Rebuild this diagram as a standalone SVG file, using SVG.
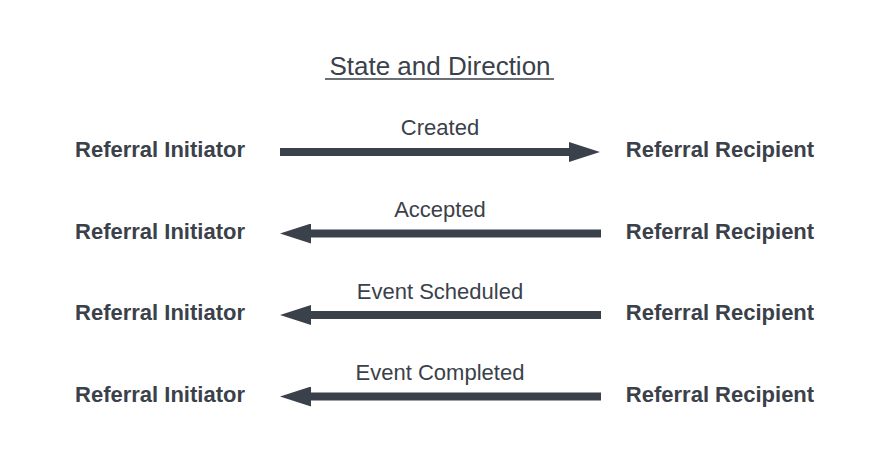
<svg xmlns="http://www.w3.org/2000/svg" width="880" height="468" viewBox="0 0 880 468">
<style>
.node{font-family:"Liberation Sans",Arial,sans-serif;font-weight:bold;font-size:22px;fill:#3a414a;text-anchor:middle}
.lbl{font-family:"Liberation Sans",Arial,sans-serif;font-size:22px;fill:#3a414a;text-anchor:middle}
.title{font-family:"Liberation Sans",Arial,sans-serif;font-size:26px;fill:#3a414a;text-anchor:middle}
.conn{stroke:#3a414a;stroke-width:8;fill:none;marker-end:url(#head)}
</style>
<defs>
<marker id="head" markerUnits="userSpaceOnUse" markerWidth="31" markerHeight="20" refX="0" refY="10" orient="auto" viewBox="0 0 31 20">
<path d="M0,0 L31,10 L0,20 Z" fill="#3a414a"/>
</marker>
</defs>
<rect width="880" height="468" fill="#ffffff"/>
<g id="title">
<text class="title" x="440" y="75">State and Direction</text>
<line x1="325" y1="79" x2="554" y2="79" stroke="#3a414a" stroke-width="1.5"/>
</g>
<g id="initiator1"><text class="node" x="160" y="157">Referral Initiator</text></g>
<g id="recipient1"><text class="node" x="720" y="157">Referral Recipient</text></g>
<g id="initiator2"><text class="node" x="160" y="238.5">Referral Initiator</text></g>
<g id="recipient2"><text class="node" x="720" y="238.5">Referral Recipient</text></g>
<g id="initiator3"><text class="node" x="160" y="320">Referral Initiator</text></g>
<g id="recipient3"><text class="node" x="720" y="320">Referral Recipient</text></g>
<g id="initiator4"><text class="node" x="160" y="402">Referral Initiator</text></g>
<g id="recipient4"><text class="node" x="720" y="402">Referral Recipient</text></g>
<g id="connectors">
<line class="conn" x1="280" y1="152" x2="569" y2="152"/>
<text class="lbl" x="440" y="135">Created</text>
<line class="conn" x1="601" y1="233.5" x2="311" y2="233.5"/>
<text class="lbl" x="440" y="216.5">Accepted</text>
<line class="conn" x1="601" y1="315" x2="311" y2="315"/>
<text class="lbl" x="440" y="298.5">Event Scheduled</text>
<line class="conn" x1="601" y1="396.5" x2="311" y2="396.5"/>
<text class="lbl" x="440" y="380">Event Completed</text>
</g>
</svg>
